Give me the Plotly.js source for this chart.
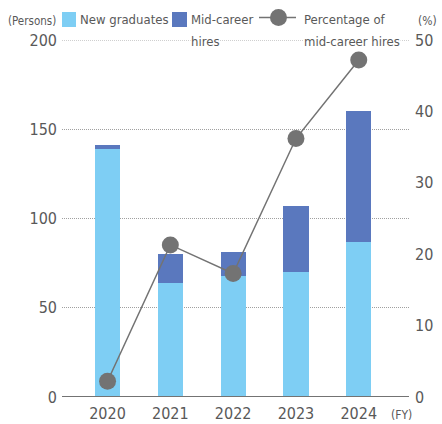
<!DOCTYPE html>
<html>
<head>
<meta charset="utf-8">
<script src="https://cdn.plot.ly/plotly-3.0.1.min.js"></script>
<style>html,body{margin:0;padding:0;background:#fff;}#chart{width:442px;height:424px;}</style>
</head>
<body>
<div id="chart"></div>
<script>
const years = ['2020', '2021', '2022', '2023', '2024'];
const newGraduates = [139, 64, 68, 70, 87];
const midCareer = [2, 16, 13, 37, 73];
const midCareerPct = [2.2, 21.3, 17.3, 36.2, 47.2];
const leftTicks = [0, 50, 100, 150, 200];
const rightTicks = [0, 10, 20, 30, 40, 50];

const FONT = '"DejaVu Sans Condensed", "Liberation Sans Narrow", sans-serif';
const TXT = '#595959';
const LIGHT = '#7ecef4';
const DARK = '#5a78be';
const GRAY = '#737373';

// plot-area pixel helpers
const L = 62, R = 409, T = 40, B = 397;
const px = x => (x - L) / (R - L);
const py = y => (B - y) / (B - T);

const traces = [
  {type: 'bar', x: years, y: newGraduates, name: 'New graduates', marker: {color: LIGHT}, width: 0.4, showlegend: false, hoverinfo: 'skip'},
  {type: 'bar', x: years, y: midCareer, name: 'Mid-career hires', marker: {color: DARK}, width: 0.4, showlegend: false, hoverinfo: 'skip'},
  {type: 'scatter', mode: 'lines+markers', x: years, y: midCareerPct, yaxis: 'y2', name: 'Percentage of mid-career hires',
   line: {color: GRAY, width: 1.5}, marker: {color: GRAY, size: 17}, showlegend: false, hoverinfo: 'skip', cliponaxis: false}
];

function ann(text, x, y, opts) {
  return Object.assign({text: text, xref: 'paper', yref: 'paper', x: px(x), y: py(y), showarrow: false,
    xanchor: 'left', yanchor: 'middle', borderpad: 0, font: {family: FONT, size: 13, color: TXT}}, opts || {});
}

const layout = {
  width: 442, height: 424,
  margin: {l: L, r: 442 - R, t: T, b: 424 - B},
  paper_bgcolor: '#fff', plot_bgcolor: '#fff',
  barmode: 'stack',
  font: {family: FONT, color: TXT},
  xaxis: {type: 'category', range: [-0.725, 4.8], showgrid: false, zeroline: false, showline: false,
          ticks: '', tickfont: {family: FONT, size: 16, color: TXT}, ticklabelstandoff: 5, fixedrange: true},
  yaxis: {range: [0, 200], tickvals: leftTicks, ticktext: leftTicks.map(String), showgrid: true, gridcolor: '#a0a0a0', griddash: '1px,1px', gridwidth: 1,
          zeroline: false, showline: false, ticks: '', tickfont: {family: FONT, size: 16, color: TXT}, ticklabelstandoff: 4, fixedrange: true},
  yaxis2: {range: [0, 50], tickvals: rightTicks, ticktext: rightTicks.map(String), overlaying: 'y', side: 'right', showgrid: false, zeroline: false,
           showline: false, ticks: '', tickfont: {family: FONT, size: 16, color: TXT}, ticklabelstandoff: 5, fixedrange: true},
  shapes: [
    {type: 'line', xref: 'paper', yref: 'y', x0: 0, x1: 1, y0: 200, y1: 200, line: {color: '#a0a0a0', width: 1, dash: '1px,1px'}, layer: 'below'},
    {type: 'line', xref: 'paper', yref: 'y', x0: 0, x1: 1, y0: 0, y1: 0, line: {color: GRAY, width: 2}, layer: 'above'},
    {type: 'rect', xref: 'paper', yref: 'paper', x0: px(62), x1: px(76), y0: py(27), y1: py(12), fillcolor: LIGHT, line: {width: 0}},
    {type: 'rect', xref: 'paper', yref: 'paper', x0: px(172), x1: px(187), y0: py(27), y1: py(12), fillcolor: DARK, line: {width: 0}},
    {type: 'line', xref: 'paper', yref: 'paper', x0: px(259), x1: px(296), y0: py(17.5), y1: py(17.5), line: {color: GRAY, width: 1.5}},
    {type: 'circle', xref: 'paper', yref: 'paper', x0: px(270), x1: px(287), y0: py(26), y1: py(9), fillcolor: GRAY, line: {width: 0}}
  ],
  annotations: [
    ann('(Persons)', 57, 21, {xanchor: 'right', font: {family: FONT, size: 11.5, color: TXT}}),
    ann('(%)', 438, 21, {xanchor: 'right', font: {family: FONT, size: 12, color: TXT}}),
    ann('New graduates', 79, 20),
    ann('Mid-career', 190, 20),
    ann('hires', 190, 42, {bgcolor: '#fff'}),
    ann('Percentage of', 303, 20),
    ann('mid-career hires', 303, 42, {bgcolor: '#fff'}),
    ann('(FY)', 401, 415, {xanchor: 'center', font: {family: FONT, size: 12, color: TXT}})
  ]
};

Plotly.newPlot('chart', traces, layout, {staticPlot: true, displayModeBar: false});
</script>
</body>
</html>
